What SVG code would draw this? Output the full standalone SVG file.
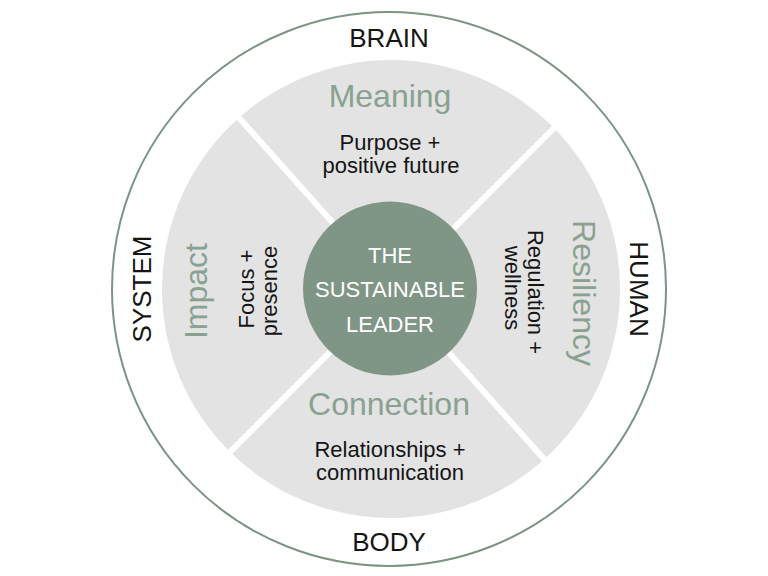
<svg xmlns="http://www.w3.org/2000/svg" width="768" height="576" viewBox="0 0 768 576">
  <style>
    .lbl { font-family: "Liberation Sans", Arial, sans-serif; fill: #151515; text-anchor: middle; }
    .outer { font-size: 26px; }
    .title { font-size: 32px; fill: #89a191; }
    .sub { font-size: 22px; }
    .ctr { font-size: 22px; fill: #ffffff; }
    .gap { stroke: #ffffff; stroke-width: 6; }
  </style>
  <rect width="768" height="576" fill="#ffffff"/>
  <g id="outer-ring">
    <circle cx="389" cy="289" r="277" fill="#ffffff" stroke="#7d9484" stroke-width="2"/>
    <text class="lbl outer" x="389" y="47">BRAIN</text>
    <text class="lbl outer" x="389" y="551">BODY</text>
    <text class="lbl outer" transform="translate(151,289) rotate(-90)" x="0" y="0">SYSTEM</text>
    <text class="lbl outer" transform="translate(630,289) rotate(90)" x="0" y="0">HUMAN</text>
  </g>
  <g id="disc">
    <circle cx="391" cy="289" r="229" fill="#e3e3e3"/>
  </g>
  <g id="separators">
    <line class="gap" x1="232" y1="110" x2="552" y2="468"/>
    <line class="gap" x1="560" y1="122" x2="224" y2="458"/>
  </g>
  <g id="meaning">
    <text class="lbl title" x="390" y="107">Meaning</text>
    <text class="lbl sub" x="390" y="150">Purpose +</text>
    <text class="lbl sub" x="391" y="173">positive future</text>
  </g>
  <g id="impact">
    <text class="lbl title" transform="translate(207,291) rotate(-90)" x="0" y="0">Impact</text>
    <text class="lbl sub" transform="translate(254,289) rotate(-90)" x="0" y="0">Focus +</text>
    <text class="lbl sub" transform="translate(277,291) rotate(-90)" x="0" y="0">presence</text>
  </g>
  <g id="resiliency">
    <text class="lbl title" transform="translate(573,293) rotate(90)" x="0" y="0">Resiliency</text>
    <text class="lbl sub" transform="translate(528,292) rotate(90)" x="0" y="0">Regulation +</text>
    <text class="lbl sub" transform="translate(505,288) rotate(90)" x="0" y="0">wellness</text>
  </g>
  <g id="connection">
    <text class="lbl title" x="389" y="415">Connection</text>
    <text class="lbl sub" x="390" y="457">Relationships +</text>
    <text class="lbl sub" x="390" y="480">communication</text>
  </g>
  <g id="center">
    <circle cx="390" cy="288.5" r="87" fill="#7f9686"/>
    <text class="lbl ctr" x="390" y="263">THE</text>
    <text class="lbl ctr" x="390" y="297">SUSTAINABLE</text>
    <text class="lbl ctr" x="390" y="332">LEADER</text>
  </g>
</svg>
